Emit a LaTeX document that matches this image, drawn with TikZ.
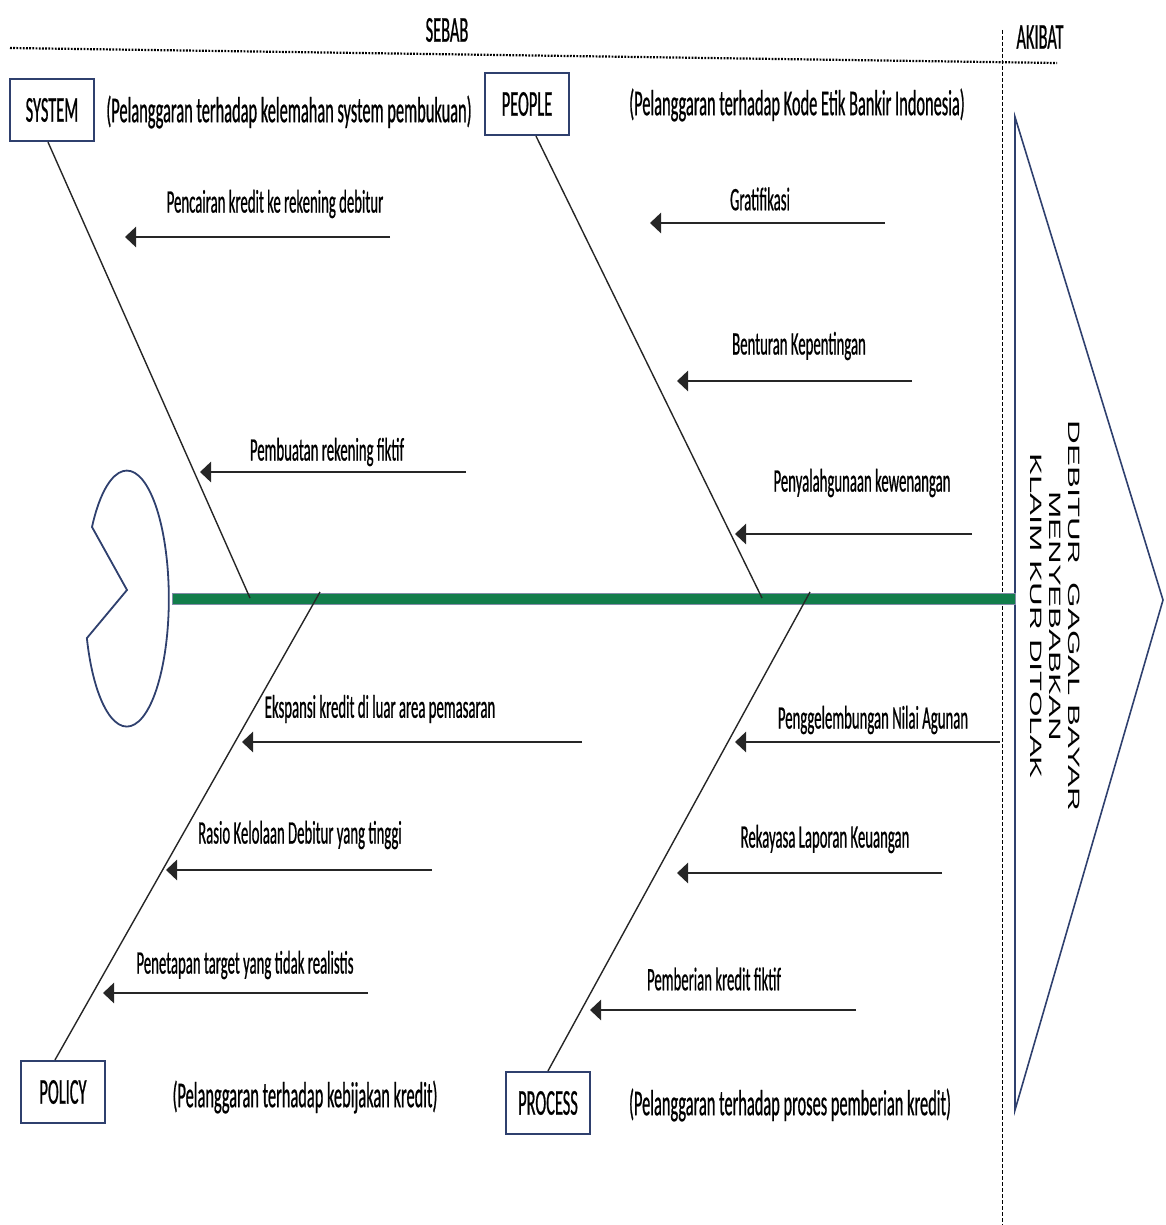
\documentclass[tikz,border=0pt]{standalone}
\usepackage{fontspec}
\setmainfont{Carlito}[FakeStretch=0.45, FakeBold=0.6]
\newfontfamily\effectfont{Liberation Sans}[FakeStretch=2.0]
\usetikzlibrary{arrows.meta}
\definecolor{boxline}{RGB}{47,64,110}
\definecolor{spinegreen}{RGB}{18,125,75}

\begin{document}
\begin{tikzpicture}[x=0.5pt, y=-0.5pt,
    font=\fontsize{18.2}{19.5}\selectfont,
    cat/.style={draw=boxline, line width=1.1pt, minimum width=42pt,
                minimum height=31pt, inner sep=0pt},
    lbl/.style={inner sep=1pt},
    clbl/.style={inner sep=1pt, font=\fontsize{16.4}{18}\selectfont},
    bone/.style={line width=0.7pt, black!85},
    cause/.style={-{Triangle[length=5.5pt, width=10pt]}, line width=1.4pt, black!85},
    effect/.style={rotate=-90, align=center, inner sep=0pt,
                   font=\effectfont\fontsize{8.2}{9.6}\selectfont}]

    \useasboundingbox (0,0) rectangle (1166,1225);

    % header: cause / effect divider
    \node[lbl] (sebab)  at (447,30)  {SEBAB};
    \node[lbl] (akibat) at (1040,37) {AKIBAT};
    \coordinate (topL) at (10,48);
    \coordinate (topR) at (1057,63);
    \draw[line width=1.1pt, dash pattern=on 0.9pt off 0.7pt] (topL) -- (topR);
    \coordinate (divT) at (1002,30);
    \coordinate (divB) at (1002,1225);
    \draw[line width=0.5pt, dash pattern=on 2pt off 1pt] (divT) -- (divB);

    % effect (fish head arrow)
    \coordinate (hdT) at (1015,117);
    \coordinate (hdP) at (1163,600);
    \coordinate (hdB) at (1015,1110);
    \draw[boxline, line width=0.8pt] (hdT) -- (hdP) -- (hdB) -- cycle;
    \node[effect] (result) at (1055,616)
        {DEBITUR\ \ GAGAL BAYAR\\MENYEBABKAN\\KLAIM KUR DITOLAK};

    % tail and spine
    \draw[boxline, line width=0.9pt] (92,527)
        arc[start angle=-146, end angle=162, x radius=42, y radius=128]
        -- (127,590) -- cycle;
    \draw[draw=boxline!60, fill=spinegreen, line width=0.4pt]
        (172,593) rectangle (1015,604);

    % categories
    \node[cat] (sys)  at (52,110)   {SYSTEM};
    \node[cat] (ppl)  at (527,104)  {PEOPLE};
    \node[cat] (pol)  at (63,1092)  {POLICY};
    \node[cat] (proc) at (548,1103) {PROCESS};

    \node[lbl] (sysT)  at (289,112)  {(Pelanggaran terhadap kelemahan system pembukuan)};
    \node[lbl] (pplT)  at (797,105)  {(Pelanggaran terhadap Kode Etik Bankir Indonesia)};
    \node[lbl] (polT)  at (305,1097) {(Pelanggaran terhadap kebijakan kredit)};
    \node[lbl] (procT) at (790,1105) {(Pelanggaran terhadap proses pemberian kredit)};

    % bones
    \coordinate (sysJ)  at (250,598);
    \coordinate (pplJ)  at (762,598);
    \coordinate (polJ)  at (320,592);
    \coordinate (procJ) at (810,592);
    \draw[bone] ([xshift=-2pt]sys.south) -- (sysJ);
    \draw[bone] ([xshift=4.5pt]ppl.south) -- (pplJ);
    \draw[bone] ([xshift=-4pt]pol.north) -- (polJ);
    \draw[bone] (proc.north) -- (procJ);

    % SYSTEM causes
    \coordinate (s1a) at (390,237); \coordinate (s1b) at (125,237);
    \draw[cause] (s1a) -- (s1b);
    \node[clbl] (s1) at (275,204) {Pencairan kredit ke rekening debitur};
    \coordinate (s2a) at (466,472); \coordinate (s2b) at (200,472);
    \draw[cause] (s2a) -- (s2b);
    \node[clbl] (s2) at (327,452) {Pembuatan rekening fiktif};

    % PEOPLE causes
    \coordinate (p1a) at (885,223); \coordinate (p1b) at (650,223);
    \draw[cause] (p1a) -- (p1b);
    \node[clbl] (p1) at (760,199) {Gratifikasi};
    \coordinate (p2a) at (912,381); \coordinate (p2b) at (677,381);
    \draw[cause] (p2a) -- (p2b);
    \node[clbl] (p2) at (799,346) {Benturan Kepentingan};
    \coordinate (p3a) at (972,534); \coordinate (p3b) at (735,534);
    \draw[cause] (p3a) -- (p3b);
    \node[clbl] (p3) at (862,483) {Penyalahgunaan kewenangan};

    % POLICY causes
    \coordinate (o1a) at (582,742); \coordinate (o1b) at (242,742);
    \draw[cause] (o1a) -- (o1b);
    \node[clbl] (o1) at (380,709) {Ekspansi kredit di luar area pemasaran};
    \coordinate (o2a) at (432,870); \coordinate (o2b) at (166,870);
    \draw[cause] (o2a) -- (o2b);
    \node[clbl] (o2) at (300,835) {Rasio Kelolaan Debitur yang tinggi};
    \coordinate (o3a) at (368,993); \coordinate (o3b) at (103,993);
    \draw[cause] (o3a) -- (o3b);
    \node[clbl] (o3) at (245,965) {Penetapan target yang tidak realistis};

    % PROCESS causes
    \coordinate (r1a) at (1000,742); \coordinate (r1b) at (735,742);
    \draw[cause] (r1a) -- (r1b);
    \node[clbl] (r1) at (873,720) {Penggelembungan Nilai Agunan};
    \coordinate (r2a) at (942,873); \coordinate (r2b) at (677,873);
    \draw[cause] (r2a) -- (r2b);
    \node[clbl] (r2) at (825,839) {Rekayasa Laporan Keuangan};
    \coordinate (r3a) at (856,1010); \coordinate (r3b) at (590,1010);
    \draw[cause] (r3a) -- (r3b);
    \node[clbl] (r3) at (714,979) {Pemberian kredit fiktif};
\end{tikzpicture}
\end{document}
